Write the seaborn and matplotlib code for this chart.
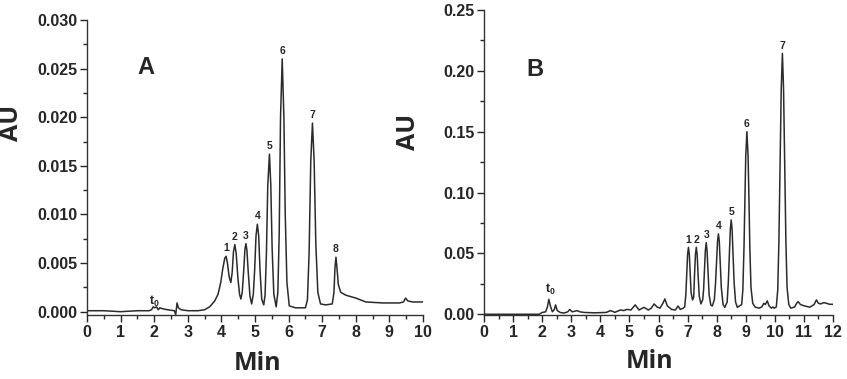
import matplotlib
matplotlib.use('Agg')

import matplotlib.pyplot as plt
import seaborn as sns
import numpy as np
import pandas as pd
from matplotlib.ticker import MultipleLocator, FormatStrFormatter

# --- panel A trace (min, AU) ---
tempo_a = [0.0, 0.5, 1.0, 1.5, 1.85, 1.92, 1.97, 2.02, 2.07, 2.12, 2.17, 2.25, 2.4, 2.6,
           2.64, 2.68, 2.72, 2.8, 3.0, 3.3, 3.5, 3.65, 3.8, 3.9, 3.98, 4.04, 4.10, 4.14,
           4.18, 4.23, 4.28, 4.32, 4.36, 4.40, 4.44, 4.49, 4.54, 4.58, 4.62, 4.66, 4.70,
           4.73, 4.76, 4.80, 4.85, 4.90, 4.95, 4.99, 5.03, 5.07, 5.11, 5.15, 5.20, 5.26,
           5.30, 5.34, 5.38, 5.43, 5.47, 5.51, 5.56, 5.63, 5.68, 5.72, 5.76, 5.81, 5.86,
           5.90, 5.95, 6.02, 6.2, 6.5, 6.56, 6.61, 6.66, 6.71, 6.76, 6.81, 6.87, 6.95,
           7.1, 7.3, 7.35, 7.38, 7.41, 7.44, 7.48, 7.55, 7.7, 8.0, 8.3, 8.8, 9.3, 9.42,
           9.48, 9.55, 9.7, 10.0]
au_a = [0.0001, 0.0001, 0.0000, 0.0001, 0.0001, 0.0002, 0.0005, 0.0004, 0.0005, 0.0002,
        0.0004, 0.0003, 0.0002, 0.0001, -0.0003, 0.0009, 0.0004, 0.0002, 0.0001, 0.0001,
        0.0002, 0.0005, 0.0011, 0.0018, 0.0030, 0.0044, 0.0055, 0.0057, 0.0050, 0.0036,
        0.0030, 0.0040, 0.0062, 0.0069, 0.0060, 0.0035, 0.0018, 0.0013, 0.0020, 0.0040,
        0.0064, 0.0070, 0.0063, 0.0040, 0.0016, 0.0008, 0.0018, 0.0043, 0.0078, 0.0090,
        0.0078, 0.0042, 0.0013, 0.0007, 0.0017, 0.0060, 0.0130, 0.0162, 0.0130, 0.0065,
        0.0018, 0.0005, 0.0020, 0.0080, 0.0200, 0.0260, 0.0200, 0.0100, 0.0030, 0.0006,
        0.0004, 0.0004, 0.0012, 0.0060, 0.0155, 0.0194, 0.0155, 0.0070, 0.0020, 0.0008,
        0.0007, 0.0008, 0.0020, 0.0045, 0.0056, 0.0045, 0.0028, 0.0020, 0.0017, 0.0014,
        0.0010, 0.0009, 0.0009, 0.0010, 0.0014, 0.0011, 0.0010, 0.0010]

# --- panel B trace ---
tempo_b = [0.0, 1.9, 2.0, 2.12, 2.18, 2.23, 2.28, 2.35, 2.42, 2.46, 2.52, 2.62, 2.75, 2.88,
           2.95, 3.03, 3.12, 3.2, 3.3, 3.45, 3.8, 4.2, 4.35, 4.5, 4.7, 4.8, 4.92, 5.05,
           5.2, 5.33, 5.5, 5.65, 5.75, 5.85, 5.95, 6.05, 6.15, 6.22, 6.3, 6.45, 6.58,
           6.67, 6.75, 6.85,
           6.90, 6.94, 6.97, 7.00, 7.03, 7.06, 7.09, 7.12, 7.17,
           7.21, 7.24, 7.27, 7.30, 7.33, 7.36, 7.40, 7.46,
           7.52, 7.55, 7.58, 7.61, 7.64, 7.67, 7.70, 7.74, 7.80, 7.85,
           7.92, 7.96, 8.00, 8.03, 8.06, 8.09, 8.12, 8.16, 8.22, 8.28,
           8.36, 8.40, 8.44, 8.47, 8.50, 8.53, 8.56, 8.60, 8.65, 8.71,
           8.86, 8.90, 8.94, 8.97, 9.00, 9.04, 9.08, 9.11, 9.14, 9.18, 9.24, 9.32, 9.45,
           9.55, 9.62, 9.67, 9.74, 9.80, 9.88, 9.93, 9.98,
           10.05, 10.10, 10.14, 10.18, 10.22, 10.26, 10.30, 10.34, 10.38, 10.42, 10.48,
           10.55, 10.68, 10.75, 10.80, 10.88, 11.0, 11.2, 11.35, 11.43, 11.5, 11.58,
           11.68, 11.78, 11.88, 12.0]
au_b = [0.0, 0.0, 0.0015, 0.002, 0.006, 0.0123, 0.007, 0.002, 0.004, 0.0077, 0.003, 0.0015,
        0.001, 0.002, 0.004, 0.002, 0.0025, 0.003, 0.002, 0.0015, 0.0012, 0.0015, 0.003,
        0.0016, 0.0036, 0.003, 0.004, 0.0035, 0.0077, 0.0035, 0.0057, 0.0035, 0.005,
        0.0085, 0.006, 0.005, 0.009, 0.0126, 0.007, 0.004, 0.0035, 0.0068, 0.004, 0.005,
        0.006, 0.016, 0.033, 0.049, 0.055, 0.049, 0.033, 0.018, 0.0117,
        0.014, 0.033, 0.049, 0.055, 0.049, 0.033, 0.015, 0.0085,
        0.012, 0.020, 0.036, 0.052, 0.0589, 0.052, 0.036, 0.016, 0.0075, 0.0068,
        0.012, 0.025, 0.046, 0.060, 0.066, 0.060, 0.044, 0.022, 0.008, 0.0057,
        0.010, 0.026, 0.052, 0.070, 0.0775, 0.070, 0.052, 0.026, 0.010, 0.0057,
        0.008, 0.020, 0.055, 0.095, 0.130, 0.150, 0.130, 0.095, 0.055, 0.022, 0.009,
        0.006, 0.005, 0.006, 0.009, 0.008, 0.011, 0.007, 0.005, 0.006, 0.005,
        0.006, 0.020, 0.060, 0.120, 0.185, 0.2144, 0.185, 0.120, 0.060, 0.022, 0.008,
        0.005, 0.006, 0.009, 0.0104, 0.008, 0.007, 0.0058, 0.008, 0.0118, 0.009, 0.0085,
        0.0096, 0.009, 0.0082, 0.0082]

# peak labels
picos_a = ["1", "2", "3", "4", "5", "6", "7", "8"]
rt_a = [4.14, 4.40, 4.73, 5.07, 5.43, 5.81, 6.71, 7.41]
alt_a = [0.0057, 0.0069, 0.0070, 0.0090, 0.0162, 0.0260, 0.0194, 0.0056]
picos_b = ["1", "2", "3", "4", "5", "6", "7"]
rt_b = [7.03, 7.30, 7.64, 8.06, 8.50, 9.04, 10.26]
alt_b = [0.055, 0.055, 0.0589, 0.066, 0.0775, 0.150, 0.2144]

sns.set_style("ticks")
plt.rcParams['font.family'] = ['Liberation Sans', 'DejaVu Sans']
plt.rcParams['mathtext.fontset'] = 'custom'
plt.rcParams['mathtext.bf'] = 'Liberation Sans:bold'
plt.rcParams['mathtext.rm'] = 'Liberation Sans:bold'

W, H = 847, 379
fig = plt.figure(figsize=(W / 100, H / 100), dpi=100)
ax_a = fig.add_axes([87 / W, 64 / H, 336 / W, 295 / H])
ax_b = fig.add_axes([484 / W, 64 / H, 349 / W, 305 / H])

cor = "#2b2b2b"
sns.lineplot(x=tempo_a, y=au_a, ax=ax_a, color=cor, lw=1.1, estimator=None, sort=False)
sns.lineplot(x=tempo_b, y=au_b, ax=ax_b, color=cor, lw=1.1, estimator=None, sort=False)

def estilo(ax, xmax, ymin, ymax, ymaj, fmt):
    ax.set_xlim(0, xmax)
    ax.set_ylim(ymin, ymax)
    ax.xaxis.set_major_locator(MultipleLocator(1))
    ax.xaxis.set_minor_locator(MultipleLocator(0.5))
    ax.yaxis.set_major_locator(MultipleLocator(ymaj))
    ax.yaxis.set_minor_locator(MultipleLocator(ymaj / 2))
    ax.yaxis.set_major_formatter(FormatStrFormatter(fmt))
    ax.tick_params(which='major', direction='out', length=5, width=1, labelsize=11.5, pad=2)
    ax.tick_params(which='minor', direction='out', length=3, width=1)
    for lab in ax.get_xticklabels() + ax.get_yticklabels():
        lab.set_fontweight('bold')
    for s in ['top', 'right']:
        ax.spines[s].set_visible(False)
    for s in ['left', 'bottom']:
        ax.spines[s].set_color('#333333')
        ax.spines[s].set_linewidth(1)
    ax.set_xlabel("")
    ax.set_ylabel("")

estilo(ax_a, 10, -0.00034, 0.030, 0.005, '%.3f')
estilo(ax_b, 12, -0.0006, 0.25, 0.05, '%.2f')

for nome, t, h in zip(picos_a, rt_a, alt_a):
    ax_a.annotate(nome, xy=(t, h), xytext=(0, 2), textcoords='offset points',
                  ha='center', va='bottom', fontsize=7.5, fontweight='bold')
for nome, t, h in zip(picos_b, rt_b, alt_b):
    ax_b.annotate(nome, xy=(t, h), xytext=(0, 2), textcoords='offset points',
                  ha='center', va='bottom', fontsize=7.5, fontweight='bold')

ax_a.text(2.01, 0.0011, r"t$_\mathbf{0}$", ha='center', va='center', fontsize=9, fontweight='bold')
ax_b.text(2.28, 0.020, r"t$_\mathbf{0}$", ha='center', va='center', fontsize=9, fontweight='bold')

# panel letters and axis titles placed at their pixel positions in the reference
for txt, px, py in [("A", 146, 67), ("B", 535, 70)]:
    fig.text(px / W, 1 - py / H, txt, ha='center', va='center', fontsize=17, fontweight='bold')

for txt, px, py, rot in [("AU", 12, 123, 90), ("AU", 408, 132, 90),
                         ("Min", 258, 364, 0), ("Min", 650, 362, 0)]:
    fig.text(px / W, 1 - py / H, txt, rotation=rot, ha='center', va='center',
             fontsize=18, fontweight='bold', family='Open Sans')

plt.savefig("out.png", dpi=100)
plt.close()
